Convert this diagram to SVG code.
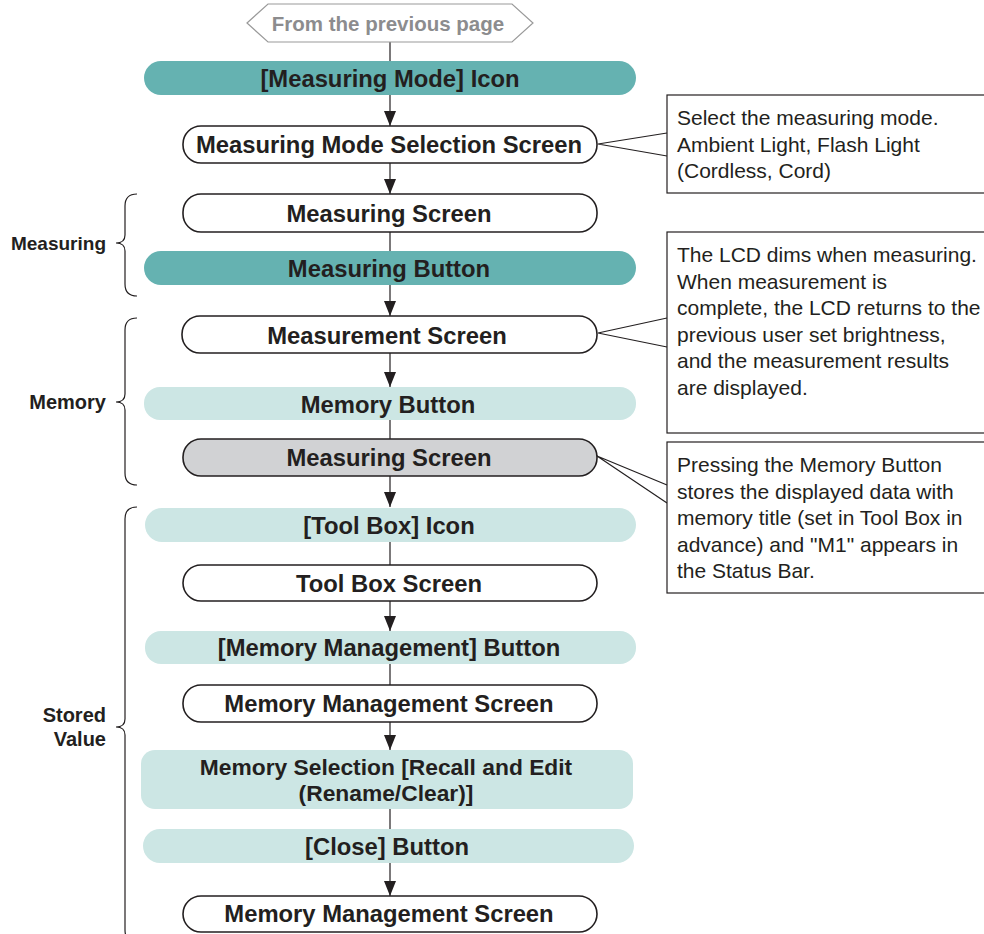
<svg xmlns="http://www.w3.org/2000/svg" width="984" height="934" viewBox="0 0 984 934">
<defs>
<style>
.t{font-family:"Liberation Sans",Arial,sans-serif;font-weight:bold;font-size:23.8px;fill:#231f20;text-anchor:middle}
.lab{font-family:"Liberation Sans",Arial,sans-serif;font-weight:bold;font-size:20px;fill:#231f20;text-anchor:end}
.c{font-family:"Liberation Sans",Arial,sans-serif;font-size:21px;fill:#231f20}
.scr{fill:#ffffff;stroke:#231f20;stroke-width:1.6}
.gray{fill:#d1d2d4;stroke:#231f20;stroke-width:1.6}
.dark{fill:#65b2b1}
.light{fill:#cce6e4}
.box{fill:#ffffff;stroke:#231f20;stroke-width:1.2}
.ln{stroke:#231f20;stroke-width:1.2;fill:none}
.br{stroke:#231f20;stroke-width:1.2;fill:none}
</style>
<marker id="a" viewBox="0 0 15 12" refX="15" refY="6" markerWidth="15" markerHeight="12" orient="auto" markerUnits="userSpaceOnUse">
<path d="M0,0 L15,6 L0,12 z" fill="#231f20"/>
</marker>
</defs>
<rect width="984" height="934" fill="#ffffff"/>

<g id="connectors">
<line class="ln" x1="390" y1="42" x2="390" y2="61"/>
<line class="ln" x1="390" y1="95" x2="390" y2="126" marker-end="url(#a)"/>
<line class="ln" x1="390" y1="163" x2="390" y2="194" marker-end="url(#a)"/>
<line class="ln" x1="390" y1="232" x2="390" y2="251"/>
<line class="ln" x1="390" y1="285" x2="390" y2="316" marker-end="url(#a)"/>
<line class="ln" x1="390" y1="353" x2="390" y2="387" marker-end="url(#a)"/>
<line class="ln" x1="390" y1="420" x2="390" y2="439"/>
<line class="ln" x1="390" y1="476" x2="390" y2="507" marker-end="url(#a)"/>
<line class="ln" x1="390" y1="542" x2="390" y2="565"/>
<line class="ln" x1="390" y1="601" x2="390" y2="631" marker-end="url(#a)"/>
<line class="ln" x1="390" y1="664" x2="390" y2="685"/>
<line class="ln" x1="390" y1="722" x2="390" y2="750" marker-end="url(#a)"/>
<line class="ln" x1="390" y1="809" x2="390" y2="829"/>
<line class="ln" x1="390" y1="863" x2="390" y2="896" marker-end="url(#a)"/>
<path class="ln" d="M667,133 L598,144 L667,156"/>
<path class="ln" d="M667,318 L598,333 L667,347"/>
<path class="ln" d="M667,485 L597,456 L667,503"/>
</g>

<g id="prev">
<polygon points="247,23 268,4 512,4 533,23 512,42 268,42" fill="#ffffff" stroke="#9a9a9a" stroke-width="1.2"/>
<text class="t" x="388" y="31" style="fill:#8c8c8e;font-size:20.5px">From the previous page</text>
</g>
<g id="n1"><rect class="dark" x="144" y="61" width="492" height="34" rx="17"/><text class="t" x="390" y="87">[Measuring Mode] Icon</text></g>
<g id="n2"><rect class="scr" x="183" y="126" width="414" height="37" rx="18"/><text class="t" x="389" y="153">Measuring Mode Selection Screen</text></g>
<g id="n3"><rect class="scr" x="183" y="194" width="414" height="38" rx="18"/><text class="t" x="389" y="222">Measuring Screen</text></g>
<g id="n4"><rect class="dark" x="144" y="251" width="492" height="34" rx="17"/><text class="t" x="389" y="277">Measuring Button</text></g>
<g id="n5"><rect class="scr" x="182" y="316" width="415" height="37" rx="18"/><text class="t" x="387" y="344">Measurement Screen</text></g>
<g id="n6"><rect class="light" x="144" y="387" width="492" height="33" rx="16"/><text class="t" x="388" y="413">Memory Button</text></g>
<g id="n7"><rect class="gray" x="183" y="439" width="414" height="37" rx="18"/><text class="t" x="389" y="466">Measuring Screen</text></g>
<g id="n8"><rect class="light" x="145" y="508" width="491" height="34" rx="17"/><text class="t" x="389" y="534">[Tool Box] Icon</text></g>
<g id="n9"><rect class="scr" x="183" y="565" width="414" height="36" rx="18"/><text class="t" x="389" y="592">Tool Box Screen</text></g>
<g id="n10"><rect class="light" x="145" y="631" width="491" height="33" rx="16"/><text class="t" x="389" y="656">[Memory Management] Button</text></g>
<g id="n11"><rect class="scr" x="183" y="685" width="414" height="37" rx="18"/><text class="t" x="389" y="712">Memory Management Screen</text></g>
<g id="n12"><rect class="light" x="141" y="750" width="492" height="59" rx="14"/><text class="t" x="386" y="775" style="font-size:22.8px">Memory Selection [Recall and Edit</text><text class="t" x="386" y="801" style="font-size:22.8px">(Rename/Clear)]</text></g>
<g id="n13"><rect class="light" x="143" y="829" width="491" height="34" rx="17"/><text class="t" x="387" y="855">[Close] Button</text></g>
<g id="n14"><rect class="scr" x="183" y="896" width="414" height="36" rx="18"/><text class="t" x="389" y="922">Memory Management Screen</text></g>

<g id="callout1">
<rect class="box" x="667" y="95" width="330" height="98"/>
<text class="c" x="677" y="125">Select the measuring mode.</text>
<text class="c" x="677" y="151.5">Ambient Light, Flash Light</text>
<text class="c" x="677" y="178">(Cordless, Cord)</text>
</g>
<g id="callout2">
<rect class="box" x="667" y="232" width="330" height="201"/>
<text class="c" x="677" y="262">The LCD dims when measuring.</text>
<text class="c" x="677" y="288.5">When measurement is</text>
<text class="c" x="677" y="315">complete, the LCD returns to the</text>
<text class="c" x="677" y="341.5">previous user set brightness,</text>
<text class="c" x="677" y="368">and the measurement results</text>
<text class="c" x="677" y="394.5">are displayed.</text>
</g>
<g id="callout3">
<rect class="box" x="667" y="442" width="330" height="151"/>
<text class="c" x="677" y="472">Pressing the Memory Button</text>
<text class="c" x="677" y="498.5">stores the displayed data with</text>
<text class="c" x="677" y="525">memory title (set in Tool Box in</text>
<text class="c" x="677" y="551.5">advance) and "M1" appears in</text>
<text class="c" x="677" y="578">the Status Bar.</text>
</g>

<g id="brace-measuring">
<path class="br" d="M137,194 Q125,194 125,206 L125,235 Q125,243 116,243 Q125,243 125,251 L125,284 Q125,296 137,296"/>
<text class="lab" x="106" y="250" style="font-size:19px">Measuring</text>
</g>
<g id="brace-memory">
<path class="br" d="M137,318 Q125,318 125,330 L125,394 Q125,402 116,402 Q125,402 125,410 L125,473 Q125,485 137,485"/>
<text class="lab" x="106" y="409">Memory</text>
</g>
<g id="brace-stored">
<path class="br" d="M137,507 Q125,507 125,519 L125,719 Q125,727 116,727 Q125,727 125,735 L125,930 Q125,942 137,942"/>
<text class="lab" x="106" y="722">Stored</text>
<text class="lab" x="106" y="746">Value</text>
</g>
</svg>
